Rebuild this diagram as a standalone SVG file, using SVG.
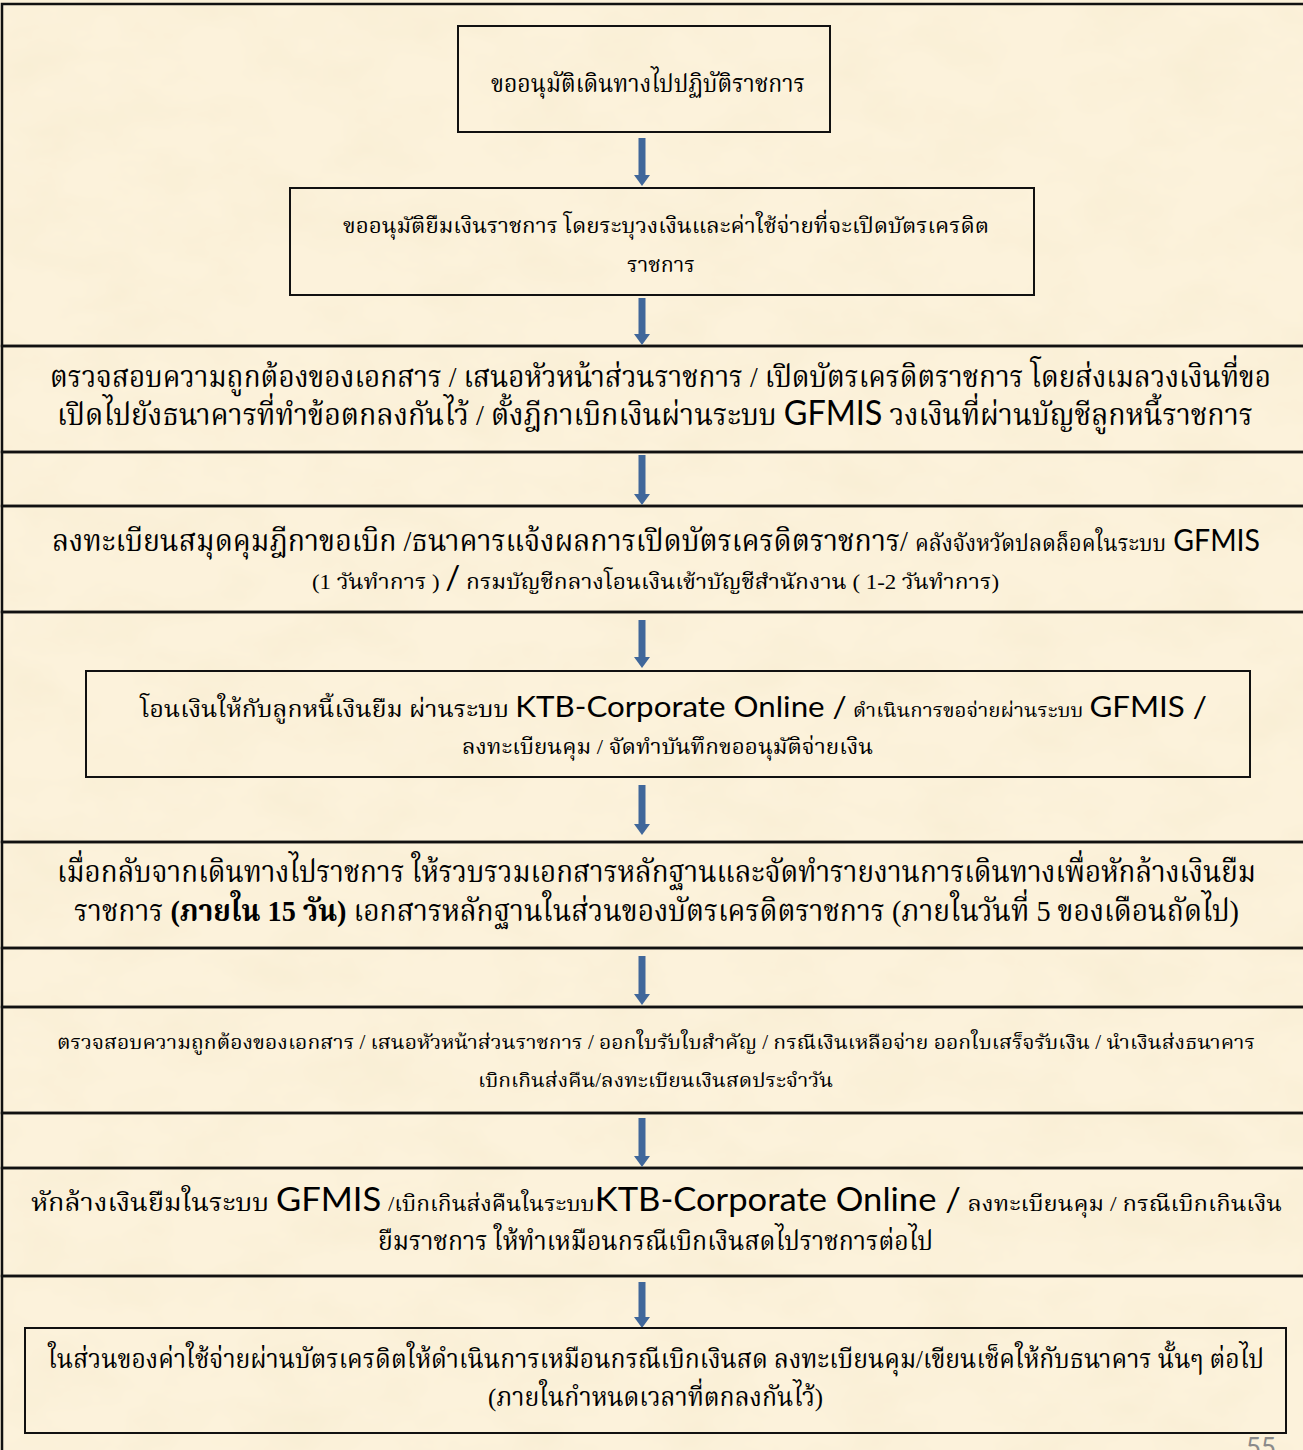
<svg xmlns="http://www.w3.org/2000/svg" width="1303" height="1450" viewBox="0 0 1303 1450">
<style>
.th{font-family:"Liberation Serif","Noto Serif Thai","Norasi",serif;fill:#000}
.en{font-family:"Lato","Open Sans","Noto Sans",sans-serif}
.b{font-weight:bold}
.band{fill:none;stroke:#111;stroke-width:2.5}
.box{fill:none;stroke:#111;stroke-width:2}
.arr{stroke:#40679A;stroke-width:7;marker-end:url(#ah)}
.pg{font-family:"Lato","Open Sans",sans-serif;fill:#8a8a8a;font-size:26px}
</style>
<defs>
<marker id="ah" markerUnits="userSpaceOnUse" viewBox="0 0 11 16" refX="0" refY="8" markerWidth="11" markerHeight="16" orient="auto">
<path d="M0,0 L11,8 L0,16 Z" fill="#40679A"/>
</marker>
<filter id="paper" x="0" y="0" width="100%" height="100%">
<feTurbulence type="fractalNoise" baseFrequency="0.012 0.02" numOctaves="4" seed="3"/>
<feColorMatrix type="matrix" values="0 0 0 0 0.93  0 0 0 0 0.84  0 0 0 0 0.64  0 0 0 1.2 -0.45"/>
</filter>
</defs>
<rect x="0" y="0" width="1303" height="1450" fill="#FCF2DB"/>
<rect x="0" y="0" width="1303" height="1450" filter="url(#paper)"/>

<g id="frame">
<rect class="band" x="2" y="4" width="1310" height="342"/>
<rect class="band" x="2" y="346" width="1310" height="106"/>
<rect class="band" x="2" y="452" width="1310" height="54"/>
<rect class="band" x="2" y="506" width="1310" height="106"/>
<rect class="band" x="2" y="612" width="1310" height="230"/>
<rect class="band" x="2" y="842" width="1310" height="106"/>
<rect class="band" x="2" y="948" width="1310" height="59"/>
<rect class="band" x="2" y="1007" width="1310" height="106"/>
<rect class="band" x="2" y="1113" width="1310" height="55"/>
<rect class="band" x="2" y="1168" width="1310" height="108"/>
<rect class="band" x="2" y="1276" width="1310" height="190"/>
</g>

<g id="connectors">
<line class="arr" x1="642" y1="138" x2="642" y2="175"/>
<line class="arr" x1="642" y1="298" x2="642" y2="334"/>
<line class="arr" x1="642" y1="455" x2="642" y2="494"/>
<line class="arr" x1="642" y1="620" x2="642" y2="657"/>
<line class="arr" x1="642" y1="785" x2="642" y2="824"/>
<line class="arr" x1="642" y1="956" x2="642" y2="994"/>
<line class="arr" x1="642" y1="1118" x2="642" y2="1156"/>
<line class="arr" x1="642" y1="1282" x2="642" y2="1317"/>
</g>

<g id="n1">
<rect class="box" x="458" y="26" width="372" height="106"/>
<text class="th" x="648" y="92" font-size="24" text-anchor="middle" textLength="314" lengthAdjust="spacingAndGlyphs">ขออนุมัติเดินทางไปปฏิบัติราชการ</text>
</g>

<g id="n2">
<rect class="box" x="290" y="188" width="744" height="107"/>
<text class="th" x="666" y="233" font-size="22" text-anchor="middle" textLength="646" lengthAdjust="spacingAndGlyphs">ขออนุมัติยืมเงินราชการ โดยระบุวงเงินและค่าใช้จ่ายที่จะเปิดบัตรเครดิต</text>
<text class="th" x="661" y="272" font-size="22" text-anchor="middle" textLength="68" lengthAdjust="spacingAndGlyphs">ราชการ</text>
</g>

<g id="n3">
<text class="th" x="660.5" y="387" font-size="30" text-anchor="middle" textLength="1221" lengthAdjust="spacingAndGlyphs">ตรวจสอบความถูกต้องของเอกสาร / เสนอหัวหน้าส่วนราชการ / เปิดบัตรเครดิตราชการ โดยส่งเมลวงเงินที่ขอ</text>
<text class="th" x="655" y="425" font-size="30" text-anchor="middle" textLength="1196" lengthAdjust="spacingAndGlyphs">เปิดไปยังธนาคารที่ทำข้อตกลงกันไว้ / ตั้งฎีกาเบิกเงินผ่านระบบ <tspan class="en" font-size="34">GFMIS</tspan> วงเงินที่ผ่านบัญชีลูกหนี้ราชการ</text>
</g>

<g id="n4">
<text class="th" x="656" y="551" font-size="30" text-anchor="middle" textLength="1208" lengthAdjust="spacingAndGlyphs">ลงทะเบียนสมุดคุมฎีกาขอเบิก /ธนาคารแจ้งผลการเปิดบัตรเครดิตราชการ/ <tspan font-size="23">คลังจังหวัดปลดล็อคในระบบ</tspan> <tspan class="en" font-size="30">GFMIS</tspan></text>
<text class="th" x="655.5" y="589" font-size="22" text-anchor="middle" textLength="687" lengthAdjust="spacingAndGlyphs">(1 วันทำการ ) <tspan class="en" font-size="32">/</tspan> กรมบัญชีกลางโอนเงินเข้าบัญชีสำนักงาน ( 1-2 วันทำการ)</text>
</g>

<g id="n5">
<rect class="box" x="86" y="671" width="1164" height="106"/>
<text class="th" x="673.5" y="717" font-size="23" text-anchor="middle" textLength="1067" lengthAdjust="spacingAndGlyphs">โอนเงินให้กับลูกหนี้เงินยืม ผ่านระบบ <tspan class="en" font-size="29">KTB-Corporate Online /</tspan> <tspan font-size="19">ดำเนินการขอจ่ายผ่านระบบ</tspan> <tspan class="en" font-size="29">GFMIS /</tspan></text>
<text class="th" x="667.5" y="754" font-size="21" text-anchor="middle" textLength="411" lengthAdjust="spacingAndGlyphs">ลงทะเบียนคุม / จัดทำบันทึกขออนุมัติจ่ายเงิน</text>
</g>

<g id="n6">
<text class="th" x="656.5" y="882" font-size="30" text-anchor="middle" textLength="1199" lengthAdjust="spacingAndGlyphs">เมื่อกลับจากเดินทางไปราชการ ให้รวบรวมเอกสารหลักฐานและจัดทำรายงานการเดินทางเพื่อหักล้างเงินยืม</text>
<text class="th" x="656.5" y="921" font-size="30" text-anchor="middle" textLength="1165" lengthAdjust="spacingAndGlyphs">ราชการ <tspan class="b">(ภายใน 15 วัน)</tspan> เอกสารหลักฐานในส่วนของบัตรเครดิตราชการ (ภายในวันที่ 5 ของเดือนถัดไป)</text>
</g>

<g id="n7">
<text class="th" x="656" y="1049" font-size="20" text-anchor="middle" textLength="1198" lengthAdjust="spacingAndGlyphs">ตรวจสอบความถูกต้องของเอกสาร / เสนอหัวหน้าส่วนราชการ / ออกใบรับใบสำคัญ / กรณีเงินเหลือจ่าย ออกใบเสร็จรับเงิน / นำเงินส่งธนาคาร</text>
<text class="th" x="655.5" y="1087" font-size="20" text-anchor="middle" textLength="355" lengthAdjust="spacingAndGlyphs">เบิกเกินส่งคืน/ลงทะเบียนเงินสดประจำวัน</text>
</g>

<g id="n8">
<text class="th" x="656.5" y="1211" font-size="25" text-anchor="middle" textLength="1251" lengthAdjust="spacingAndGlyphs">หักล้างเงินยืมในระบบ <tspan class="en" font-size="32">GFMIS</tspan>  <tspan font-size="21">/เบิกเกินส่งคืนในระบบ</tspan><tspan class="en" font-size="32">KTB-Corporate Online /</tspan> <tspan font-size="22">ลงทะเบียนคุม / กรณีเบิกเกินเงิน</tspan></text>
<text class="th" x="655.5" y="1250" font-size="27" text-anchor="middle" textLength="555" lengthAdjust="spacingAndGlyphs">ยืมราชการ ให้ทำเหมือนกรณีเบิกเงินสดไปราชการต่อไป</text>
</g>

<g id="n9">
<rect class="box" x="25" y="1328" width="1261" height="105"/>
<text class="th" x="656" y="1368" font-size="26" text-anchor="middle" textLength="1216" lengthAdjust="spacingAndGlyphs">ในส่วนของค่าใช้จ่ายผ่านบัตรเครดิตให้ดำเนินการเหมือนกรณีเบิกเงินสด ลงทะเบียนคุม/เขียนเช็คให้กับธนาคาร นั้นๆ ต่อไป</text>
<text class="th" x="655.5" y="1406" font-size="26" text-anchor="middle" textLength="335" lengthAdjust="spacingAndGlyphs">(ภายในกำหนดเวลาที่ตกลงกันไว้)</text>
</g>

<text class="pg" x="1246" y="1457">55</text>
</svg>
